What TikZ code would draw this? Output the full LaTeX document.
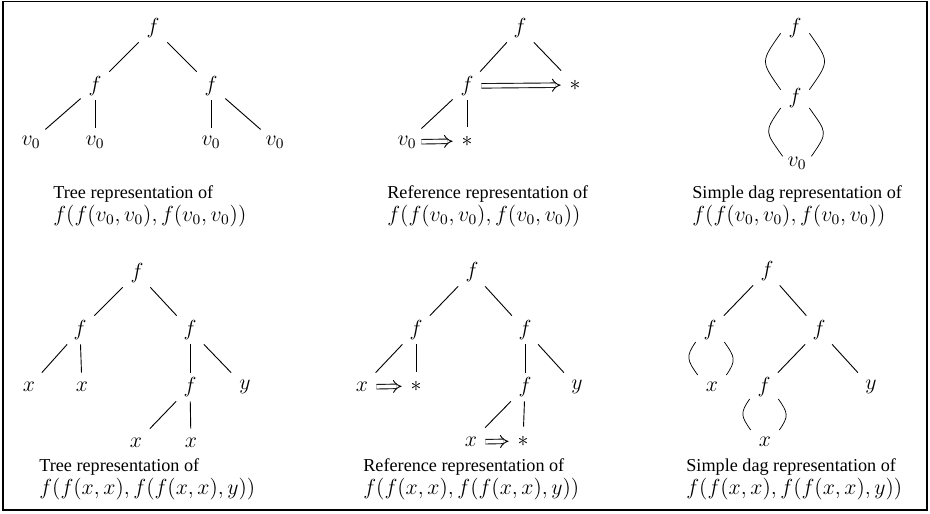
\documentclass[tikz,border=0pt]{standalone}
\usepackage{amsmath}
\usepackage[no-math]{fontspec}
\setmainfont{Liberation Serif}
\usetikzlibrary{arrows.meta}
\newcommand{\termtext}[1]{{\fontsize{12}{12.7}\selectfont$#1$}}
\tikzset{
  tnode/.style={rectangle, inner sep=0pt, minimum size=15.4pt, font=\fontsize{12}{14}\selectfont},
  branch/.style={line width=0.5pt},
  refarrow/.style={-{Implies}, double, double distance=2pt, line width=0.5pt},
  dagL/.style={line width=0.5pt, out=235, in=125},
  dagR/.style={line width=0.5pt, out=-55, in=55},
  caption/.style={anchor=north west, align=left, inner sep=0pt, font=\fontsize{10}{12.7}\selectfont}
}

\begin{document}
\begin{tikzpicture}[x=0.55pt, y=0.55pt]
    \useasboundingbox (0,0) rectangle (930,513);
    \draw[line width=0.8pt] (3,3) rectangle (927,511.5);

    % tree of f(f(v0,v0),f(v0,v0))
    \node[tnode] (a0) at (153,485) {$f$};
    \node[tnode] (a1) at (95,427) {$f$};
    \node[tnode] (a2) at (211,427) {$f$};
    \node[tnode] (a11) at (31,371) {$v_0$};
    \node[tnode] (a12) at (95,371) {$v_0$};
    \node[tnode] (a21) at (211,371) {$v_0$};
    \node[tnode] (a22) at (275,371) {$v_0$};
    \draw[branch] (a0) -- (a1);
    \draw[branch] (a0) -- (a2);
    \draw[branch] (a1) -- (a11);
    \draw[branch] (a1) -- (a12);
    \draw[branch] (a2) -- (a21);
    \draw[branch] (a2) -- (a22);
    \node[caption] (c1) at (53,328) {Tree representation of\\\termtext{f(f(v_0,v_0),f(v_0,v_0))}};

    % reference representation
    \node[tnode] (b0) at (520,485) {$f$};
    \node[tnode] (b1) at (467,427) {$f$};
    \node[tnode] (b2) at (575,428) {$*$};
    \node[tnode] (b11) at (407,371) {$v_0$};
    \node[tnode] (b12) at (467,372) {$*$};
    \draw[branch] (b0) -- (b1);
    \draw[branch] (b0) -- (b2);
    \draw[branch] (b1) -- (b11);
    \draw[branch] (b1) -- (b12);
    \draw[refarrow] (b1) -- (b2);
    \draw[refarrow] (b11) -- (b12);
    \node[caption] (c2) at (387,328) {Reference representation of\\\termtext{f(f(v_0,v_0),f(v_0,v_0))}};

    % simple dag
    \node[tnode] (d0) at (795,485) {$f$};
    \node[tnode] (d1) at (795,415) {$f$};
    \node[tnode] (d2) at (797,350) {$v_0$};
    \draw (d0.200) to[dagL, looseness=1.6] (d1.150);
    \draw (d0.-20) to[dagR, looseness=1.6] (d1.30);
    \draw (d1.215) to[dagL, looseness=1.6] (d2.155);
    \draw (d1.-35) to[dagR, looseness=1.6] (d2.25);
    \node[caption] (c3) at (692,328) {Simple dag representation of\\\termtext{f(f(v_0,v_0),f(v_0,v_0))}};

    % tree of f(f(x,x),f(f(x,x),y))
    \node[tnode] (e0) at (137,240) {$f$};
    \node[tnode] (e1) at (80,183) {$f$};
    \node[tnode] (e2) at (190,183) {$f$};
    \node[tnode] (e11) at (29,126) {$x$};
    \node[tnode] (e12) at (82,126) {$x$};
    \node[tnode] (e21) at (190,126) {$f$};
    \node[tnode] (e22) at (245,126) {$y$};
    \node[tnode] (e211) at (136,70) {$x$};
    \node[tnode] (e212) at (191,70) {$x$};
    \draw[branch] (e0) -- (e1);
    \draw[branch] (e0) -- (e2);
    \draw[branch] (e1) -- (e11);
    \draw[branch] (e1) -- (e12);
    \draw[branch] (e2) -- (e21);
    \draw[branch] (e2) -- (e22);
    \draw[branch] (e21) -- (e211);
    \draw[branch] (e21) -- (e212);
    \node[caption] (c4) at (39,55) {Tree representation of\\\termtext{f(f(x,x),f(f(x,x),y))}};

    % reference representation
    \node[tnode] (g0) at (472,241) {$f$};
    \node[tnode] (g1) at (416,183) {$f$};
    \node[tnode] (g2) at (525,183) {$f$};
    \node[tnode] (g11) at (362,126) {$x$};
    \node[tnode] (g12) at (416,127) {$*$};
    \node[tnode] (g21) at (525,126) {$f$};
    \node[tnode] (g22) at (577,126) {$y$};
    \node[tnode] (g211) at (471,71) {$x$};
    \node[tnode] (g212) at (523,72) {$*$};
    \draw[branch] (g0) -- (g1);
    \draw[branch] (g0) -- (g2);
    \draw[branch] (g1) -- (g11);
    \draw[branch] (g1) -- (g12);
    \draw[branch] (g2) -- (g21);
    \draw[branch] (g2) -- (g22);
    \draw[branch] (g21) -- (g211);
    \draw[branch] (g21) -- (g212);
    \draw[refarrow] (g11) -- (g12);
    \draw[refarrow] (g211) -- (g212);
    \node[caption] (c5) at (363,55) {Reference representation of\\\termtext{f(f(x,x),f(f(x,x),y))}};

    % simple dag
    \node[tnode] (h0) at (767,242) {$f$};
    \node[tnode] (h1) at (710,183) {$f$};
    \node[tnode] (h2) at (819,183) {$f$};
    \node[tnode] (h11) at (712,126) {$x$};
    \node[tnode] (h21) at (764,126) {$f$};
    \node[tnode] (h22) at (871,126) {$y$};
    \node[tnode] (h211) at (765,71) {$x$};
    \draw[branch] (h0) -- (h1);
    \draw[branch] (h0) -- (h2);
    \draw[branch] (h2) -- (h21);
    \draw[branch] (h2) -- (h22);
    \draw (h1.220) to[dagL, looseness=1.4] (h11.140);
    \draw (h1.-40) to[dagR, looseness=1.4] (h11.40);
    \draw (h21.220) to[dagL, looseness=1.4] (h211.140);
    \draw (h21.-40) to[dagR, looseness=1.4] (h211.40);
    \node[caption] (c6) at (686,55) {Simple dag representation of\\\termtext{f(f(x,x),f(f(x,x),y))}};
\end{tikzpicture}
\end{document}
